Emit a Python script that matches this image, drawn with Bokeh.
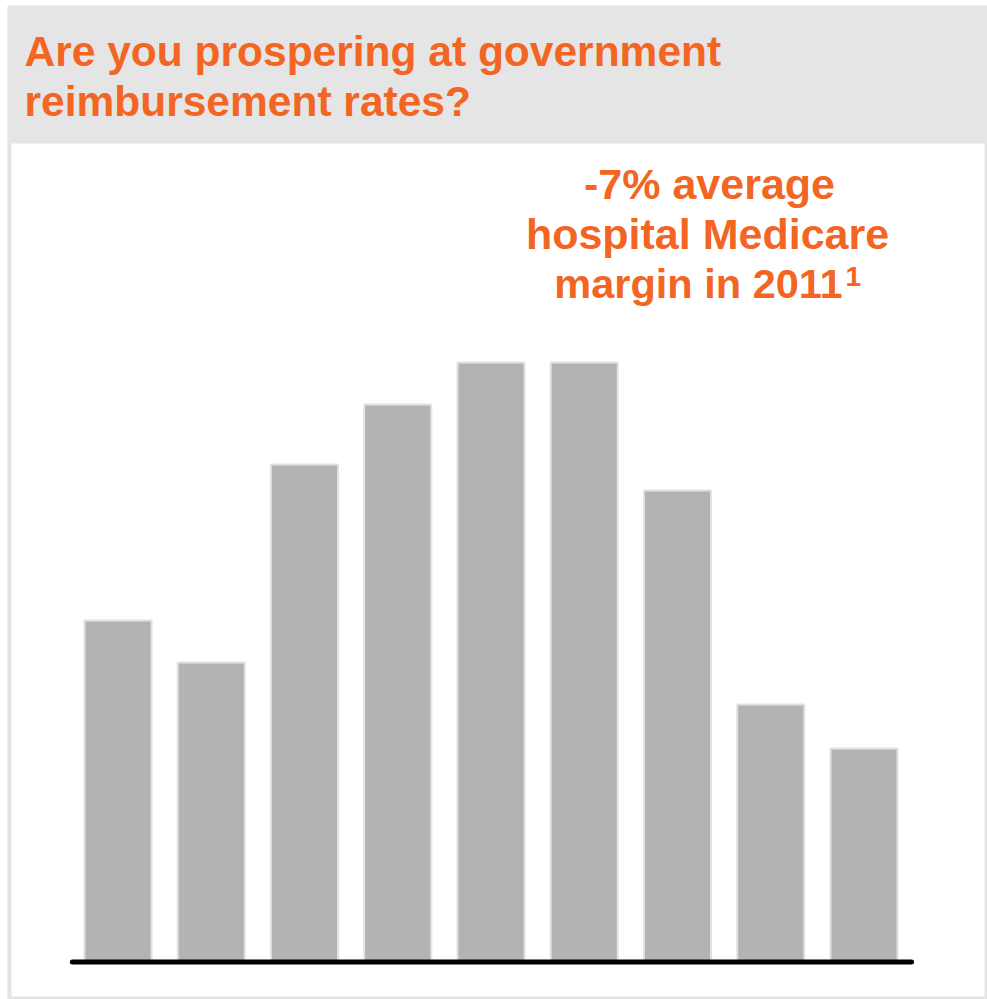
from bokeh.plotting import figure
from bokeh.models import Range1d, BoxAnnotation, Label
from bokeh.embed import file_html
from bokeh.resources import INLINE

# ---- data (relative bar heights) ----
bins = ["b1", "b2", "b3", "b4", "b5", "b6", "b7", "b8", "b9"]
counts = [342, 300, 498, 558, 600, 600, 472, 258, 214]
title_lines = ["Are you prospering at government", "reimbursement rates?"]
note_lines = ["-7% average", "hospital Medicare", "margin in 2011"]
note_sup = "1"

# ---- layout constants (page pixels) ----
W, H = 987, 999
X_PX0, X_STEP = 117.5, 93.25   # pixel centre of first bar, pixel spacing
Y_PX0 = 962.0                  # pixel of value 0 (baseline)

def px(x):   # page pixel x -> data x
    return (x - X_PX0) / X_STEP

def py(y):   # page pixel y -> data y
    return Y_PX0 - y

ORANGE = "#F26522"
FONT = "Liberation Sans"

p = figure(width=W, height=H, output_backend="svg", toolbar_location=None,
           x_range=Range1d(px(0), px(W)), y_range=Range1d(py(H), py(0)),
           min_border=0, min_border_left=0, min_border_right=0,
           min_border_top=0, min_border_bottom=0)
p.axis.visible = False
p.grid.visible = False
p.outline_line_color = None
p.background_fill_color = "white"
p.border_fill_color = "white"

# frame and header band
p.add_layout(BoxAnnotation(left=px(7), right=px(987), top=py(5), bottom=py(999),
                           fill_color="#e5e5e5", fill_alpha=1, line_color=None,
                           level="underlay"))
p.add_layout(BoxAnnotation(left=px(11), right=px(984), top=py(143), bottom=py(996),
                           fill_color="white", fill_alpha=1, line_color=None,
                           level="underlay"))

# bars
idx = list(range(len(bins)))
p.vbar(x=idx, top=counts, bottom=0, width=0.72,
       fill_color="#b3b3b3", line_color="#e2e2e2", line_width=2)

# baseline
p.segment(x0=[-0.49], y0=[0.5], x1=[len(bins) - 1 + 0.51], y1=[0.5],
          line_color="black", line_width=5, line_cap="round")

# title
for i, t in enumerate(title_lines):
    p.add_layout(Label(x=px(24), y=py(51 + 50 * i), text=t,
                       text_font=FONT, text_font_style="bold",
                       text_font_size="42.5px", text_color=ORANGE,
                       text_align="left", text_baseline="alphabetic"))

# note
centres = [709, 707, 698]
sizes = ["43px", "43px", "41.5px"]
for i, t in enumerate(note_lines):
    p.add_layout(Label(x=px(centres[i]), y=py(183 + 50 * i), text=t,
                       text_font=FONT, text_font_style="bold",
                       text_font_size=sizes[i], text_color=ORANGE,
                       text_align="center", text_baseline="alphabetic"))
p.add_layout(Label(x=px(845), y=py(276), text=note_sup,
                   text_font=FONT, text_font_style="bold",
                   text_font_size="28px", text_color=ORANGE,
                   text_align="left", text_baseline="alphabetic"))

open("out.html", "w").write(file_html(p, INLINE))
